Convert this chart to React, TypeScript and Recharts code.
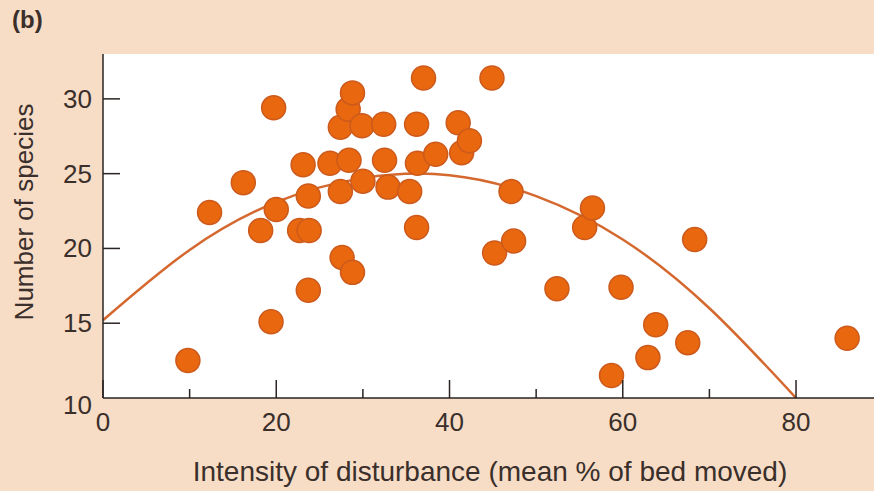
import React from 'react';
import { ComposedChart, Scatter, Line, XAxis, YAxis } from 'recharts';

// Observed sites: disturbance intensity (x) vs number of species (y)
const disturbance = [
  9.8, 12.3, 16.2, 18.2, 19.7, 20.0, 19.4, 23.1, 22.7, 23.8,
  23.7, 23.7, 26.2, 27.4, 27.6, 28.8, 27.4, 28.4, 28.3, 28.8,
  29.9, 30.0, 32.4, 32.5, 32.9, 35.4, 36.2, 36.2, 37.0, 36.3,
  38.4, 41.0, 41.4, 42.3, 44.9, 47.1, 45.2, 47.4, 52.4, 55.6,
  56.5, 59.8, 58.7, 62.9, 63.8, 67.5, 68.3, 85.9,
];
const species = [
  12.5, 22.4, 24.4, 21.2, 29.4, 22.6, 15.1, 25.6, 21.2, 21.2,
  23.5, 17.2, 25.7, 23.8, 19.4, 18.4, 28.1, 25.9, 29.3, 30.4,
  28.2, 24.5, 28.3, 25.9, 24.1, 23.8, 28.3, 21.4, 31.4, 25.7,
  26.3, 28.4, 26.4, 27.2, 31.4, 23.8, 19.7, 20.5, 17.3, 21.4,
  22.7, 17.4, 11.5, 12.7, 14.9, 13.7, 20.6, 14.0,
];

// Fitted curve
const curveX = [0, 10, 20, 30, 40, 50, 60, 70, 80];
const curveY = [15.2, 19.9, 23.1, 24.7, 24.9, 23.5, 20.6, 16.0, 10.0];

const xTicks = [0, 10, 20, 30, 40, 50, 60, 70, 80];
const yTicks = [10, 15, 20, 25, 30];

const points = disturbance.map((x, i) => ({ x, y: species[i] }));
const curve = curveX.map((x, i) => ({ x, fit: curveY[i] }));

const FONT = '"Liberation Sans", Arial, Helvetica, sans-serif';
const TEXT = '#3a2f2a';
const AXIS = '#2a2422';
const BG = '#f7dcc6';
const DOT = '#e8670f';
const DOT_EDGE = '#cc5a1c';
const CURVE = '#d4682f';

const XTick = (props: any) => {
  const { x, y, payload } = props;
  const v = payload.value;
  const major = v % 20 === 0;
  return (
    <g>
      <line x1={x} y1={y} x2={x} y2={y - (major ? 18 : 9)} stroke={AXIS} strokeWidth={1.5} />
      {major && (
        <text x={x} y={y + 33} textAnchor="middle" fontSize={26} fill={TEXT} fontFamily={FONT}>
          {v}
        </text>
      )}
    </g>
  );
};

const YTick = (props: any) => {
  const { x, y, payload } = props;
  const v = payload.value;
  return (
    <g>
      {v !== 10 && <line x1={x} y1={y} x2={x + 17} y2={y} stroke={AXIS} strokeWidth={1.5} />}
      <text x={x - 11} y={y + (v === 10 ? 16 : 9)} textAnchor="end" fontSize={26} fill={TEXT} fontFamily={FONT}>
        {v}
      </text>
    </g>
  );
};

const Dot = (props: any) => {
  const { cx, cy } = props;
  return <circle cx={cx} cy={cy} r={12} fill={DOT} stroke={DOT_EDGE} strokeWidth={1.5} />;
};

export default function App() {
  return (
    <div style={{ position: 'absolute', left: 0, top: 0, width: 874, height: 491, background: BG }}>
      <ComposedChart
        width={874}
        height={491}
        margin={{ top: 54, right: 0, bottom: 0, left: 0 }}
        style={{ fontFamily: FONT }}
      >
        <rect x={103} y={54} width={771} height={344} fill="#ffffff" />
        <XAxis
          type="number"
          dataKey="x"
          domain={[0, 89]}
          ticks={xTicks}
          allowDataOverflow
          height={93}
          tickSize={0}
          tickMargin={0}
          tickLine={false}
          tick={<XTick />}
          stroke={AXIS}
          strokeWidth={1.5}
          interval={0}
        />
        <YAxis
          type="number"
          domain={[10, 33]}
          ticks={yTicks}
          allowDataOverflow
          width={103}
          tickSize={0}
          tickMargin={0}
          tickLine={false}
          tick={<YTick />}
          stroke={AXIS}
          strokeWidth={1.5}
          interval={0}
        />
        <Line
          data={curve}
          dataKey="fit"
          type="natural"
          stroke={CURVE}
          strokeWidth={2.5}
          dot={false}
          activeDot={false}
          isAnimationActive={false}
        />
        <Scatter data={points} dataKey="y" shape={<Dot />} isAnimationActive={false} />
        <text x={12} y={28} fontSize={24} fontWeight="bold" fill={TEXT} fontFamily={FONT}>
          (b)
        </text>
        <text
          x={490}
          y={481}
          textAnchor="middle"
          fontSize={28}
          fill={TEXT}
          fontFamily={FONT}
        >
          Intensity of disturbance (mean % of bed moved)
        </text>
        <text
          x={33}
          y={212}
          textAnchor="middle"
          fontSize={26}
          fill={TEXT}
          fontFamily={FONT}
          transform="rotate(-90 33 212)"
        >
          Number of species
        </text>
      </ComposedChart>
    </div>
  );
}
